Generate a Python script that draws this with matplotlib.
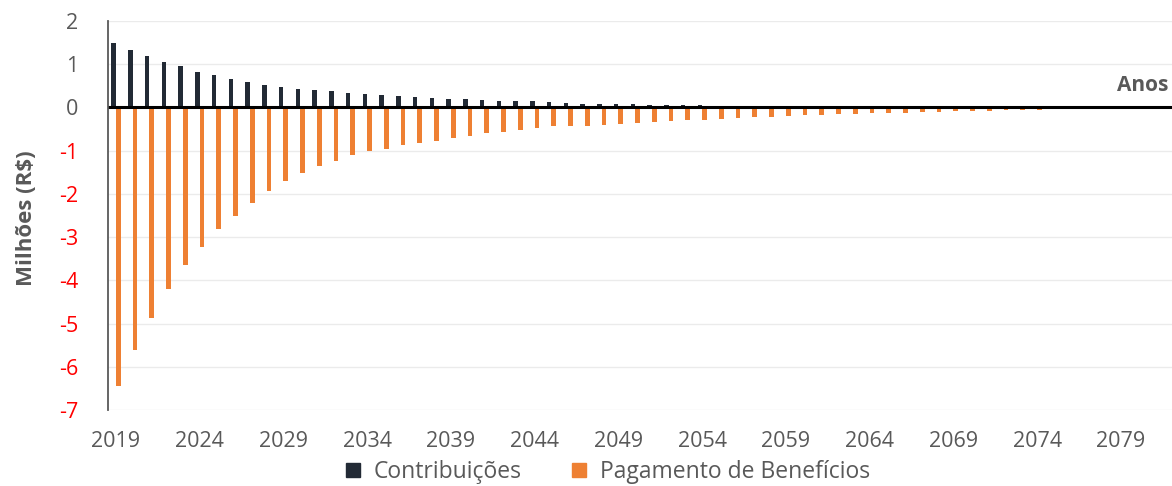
import matplotlib

matplotlib.use("Agg")
import matplotlib.pyplot as plt
from matplotlib.patches import Patch
from matplotlib.ticker import FixedLocator

plt.rcParams["font.family"] = ["Open Sans", "DejaVu Sans"]

# ---- data (millions of R$) ----
years = list(range(2019, 2080))

contribuicoes = [
    1.49, 1.33, 1.20, 1.06, 0.95, 0.83, 0.74, 0.66, 0.58, 0.52,   # 2019-2028
    0.47, 0.43, 0.40, 0.37, 0.34, 0.32, 0.28, 0.26, 0.25, 0.22,   # 2029-2038
    0.20, 0.185, 0.17, 0.16, 0.15, 0.14, 0.13, 0.11, 0.09, 0.08,  # 2039-2048
    0.07, 0.07, 0.06, 0.05, 0.05, 0.045, 0.04, 0.035, 0.032, 0.03,  # 2049-2058
    0.028, 0.026, 0.024, 0.022, 0.02, 0.019, 0.018, 0.017, 0.016, 0.015,  # 2059-2068
    0.014, 0.013, 0.012, 0.011, 0.01, 0.009, 0.008, 0.007, 0.006, 0.005,  # 2069-2078
    0.004,                                                         # 2079
]

pagamento_beneficios = [
    -6.45, -5.62, -4.87, -4.21, -3.64, -3.23, -2.81, -2.52, -2.21, -1.94,  # 2019-2028
    -1.71, -1.52, -1.36, -1.23, -1.10, -1.01, -0.96, -0.88, -0.82, -0.77,  # 2029-2038
    -0.70, -0.65, -0.60, -0.56, -0.52, -0.47, -0.44, -0.42, -0.43, -0.40,  # 2039-2048
    -0.38, -0.36, -0.33, -0.32, -0.29, -0.28, -0.26, -0.24, -0.22, -0.21,  # 2049-2058
    -0.19, -0.18, -0.17, -0.16, -0.155, -0.14, -0.13, -0.12, -0.11, -0.10,  # 2059-2068
    -0.093, -0.085, -0.077, -0.07, -0.062, -0.054, -0.046, -0.039, -0.031, -0.023,  # 2069-2078
    -0.015,                                                               # 2079
]

label_years = [2019, 2024, 2029, 2034, 2039, 2044, 2049, 2054, 2059, 2064, 2069, 2074, 2079]
y_ticks = [2, 1, 0, -1, -2, -3, -4, -5, -6, -7]

DARK = "#222A35"
ORANGE = "#EE8033"
GREY = "#595959"

# ---- figure ----
W, H = 1172, 486
fig = plt.figure(figsize=(W / 100, H / 100), dpi=100)
left_px, top_px, bottom_px = 107.6, 21, 410
ax = fig.add_axes([left_px / W, 1 - bottom_px / H, 1 - left_px / W, (bottom_px - top_px) / H])

x = list(range(len(years)))
bw = 0.28
ax.bar([i - bw / 2 for i in x], contribuicoes, width=bw, color=DARK, zorder=2)
ax.bar([i + bw / 2 for i in x], pagamento_beneficios, width=bw, color=ORANGE, zorder=2)
ax.axhline(0, color="black", lw=2.2, zorder=3)

cat_px = 16.75
ax.set_xlim(-0.5, -0.5 + (W - left_px) / cat_px)
ax.set_ylim(-7, 2)

ax.xaxis.set_major_locator(FixedLocator([years.index(y) for y in label_years]))
ax.set_xticklabels([str(y) for y in label_years])
ax.set_yticks(y_ticks)
ax.set_yticklabels([str(v) for v in y_ticks])
for lab, v in zip(ax.get_yticklabels(), y_ticks):
    lab.set_color("red" if v < 0 else GREY)

ax.tick_params(axis="both", length=0, labelsize=15.5)
ax.tick_params(axis="x", pad=15, labelcolor=GREY)
ax.tick_params(axis="y", pad=21)

ax.yaxis.grid(True, color="#EBEBEB", lw=1)
ax.set_axisbelow(True)
for s in ("top", "right", "bottom"):
    ax.spines[s].set_visible(False)
ax.spines["left"].set_color(GREY)
ax.spines["left"].set_linewidth(1.3)
ax.spines["left"].set_zorder(4)

ax.set_ylabel("Milhões (R$)", fontsize=16, fontweight="bold", color=GREY)
ax.yaxis.set_label_coords(-0.066, 0.494)

ax.text(0.997, 0.5, "Anos", transform=ax.get_yaxis_transform(), ha="right", va="center",
        fontsize=15, fontweight="bold", color=GREY)

handles = [Patch(color=DARK, label="Contribuições"), Patch(color=ORANGE, label="Pagamento de Benefícios")]
fig.legend(handles=handles, loc="center", bbox_to_anchor=(608 / W, 1 - 472 / H), ncol=2,
           frameon=False, fontsize=16.5, handlelength=0.6, handleheight=0.6,
           handletextpad=0.6, columnspacing=2.2, labelcolor=GREY)

fig.savefig("out.png", dpi=100)
